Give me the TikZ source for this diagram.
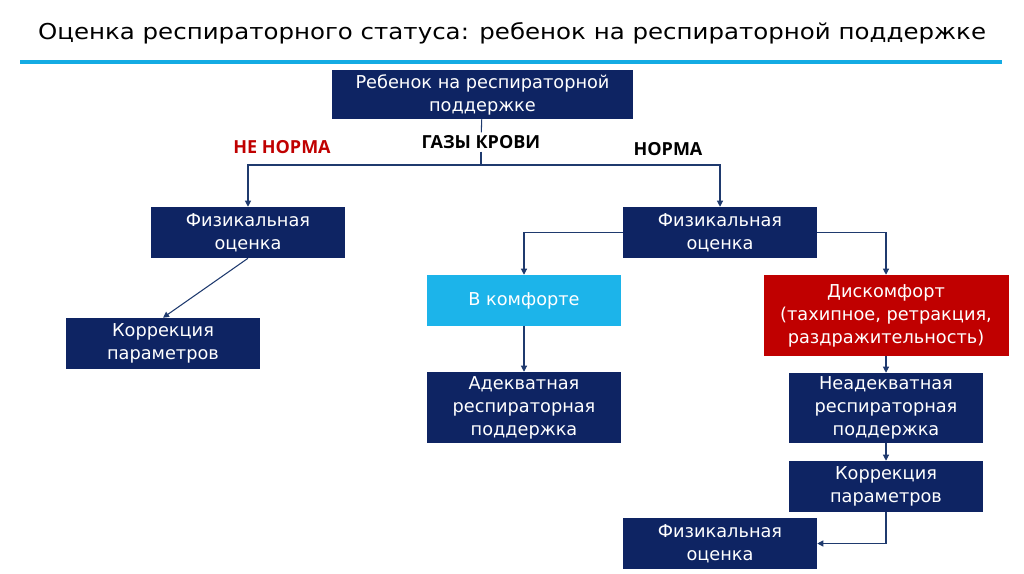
\documentclass[tikz,border=0pt]{standalone}
\usepackage{fontspec}
\setmainfont{DejaVu Sans}
\newfontfamily\titlefont[FakeStretch=1.12]{DejaVu Sans}
\newfontfamily\lblfont{Open Sans}
\usetikzlibrary{positioning,arrows.meta}
\definecolor{navy}{HTML}{0E2463}
\definecolor{skyblue}{HTML}{1CB4EA}
\definecolor{alarm}{HTML}{C00000}
\definecolor{rule}{HTML}{14ABE3}
\definecolor{wire}{HTML}{1F3A6E}

\begin{document}
\begin{tikzpicture}[x=0.75pt,y=-0.75pt,
  box/.style={fill=navy, text=white, align=center, inner sep=0pt,
              font=\fontsize{13.3}{17.3}\selectfont},
  sz/.style 2 args={minimum width=#1*0.75pt, minimum height=#2*0.75pt},
  ln/.style={wire, line width=0.8pt},
  arr/.style={ln, -{Triangle[length=4.5pt,width=4.5pt]}},
  lbl/.style={font=\lblfont\bfseries\fontsize{13.5}{16}\selectfont, inner sep=2pt}
]
\useasboundingbox (0,0) rectangle (1024,574);
% ---------------- title ----------------
\node[font=\titlefont\fontsize{16.4}{19}\selectfont] (title) at (512,33.5)
  {Оценка респираторного статуса: ребенок на респираторной поддержке};
\draw[rule, line width=3.5pt] (20,62) -- (1002,62);
% ---------------- boxes ----------------
\node[box, sz={301}{49}] (top) at (482.5,94.5) {Ребенок на респираторной\\поддержке};
\node[box, sz={194}{51}] (fizL) at (248,232.5) {Физикальная\\оценка};
\node[box, sz={194}{51}] (korrL) at (163,343.5) {Коррекция\\параметров};
\node[box, sz={194}{51}] (fizR) at (720,232.5) {Физикальная\\оценка};
\node[box, sz={194}{51}, fill=skyblue] (komf) at (524,300.5) {В комфорте};
\node[box, sz={194}{71}] (adek) at (524,407.5) {Адекватная\\респираторная\\поддержка};
\node[box, sz={245}{81}, fill=alarm] (disk) at (886,315.5)
  {Дискомфорт\\(тахипное, ретракция,\\раздражительность)};
\node[box, sz={194}{70}] (neadek) at (886,408) {Неадекватная\\респираторная\\поддержка};
\node[box, sz={194}{51}] (korrR) at (886,486.5) {Коррекция\\параметров};
\node[box, sz={194}{51}] (fizB) at (720,543.5) {Физикальная\\оценка};
% ---------------- labels ----------------
\node[lbl] (gazy) at (481,142) {ГАЗЫ КРОВИ};
\node[lbl, text=alarm] (nenorm) at (282,147) {НЕ НОРМА};
\node[lbl] (norm) at (668,149) {НОРМА};
\coordinate (split) at (481,165);
% ---------------- connectors ----------------
\draw[ln] (top) -- (gazy);
\draw[ln] (gazy) -- (split);
\draw[arr] (split) -| (fizL);
\draw[arr] (split) -| (fizR);
\draw[arr] (fizL.south) -- (korrL.north);
\draw[arr] (fizR.west) -| (komf);
\draw[arr] (fizR.east) -| (disk);
\draw[arr] (komf) -- (adek);
\draw[arr] (disk) -- (neadek);
\draw[arr] (neadek) -- (korrR);
\draw[arr] (korrR.south) |- (fizB.east);
\end{tikzpicture}
\end{document}
